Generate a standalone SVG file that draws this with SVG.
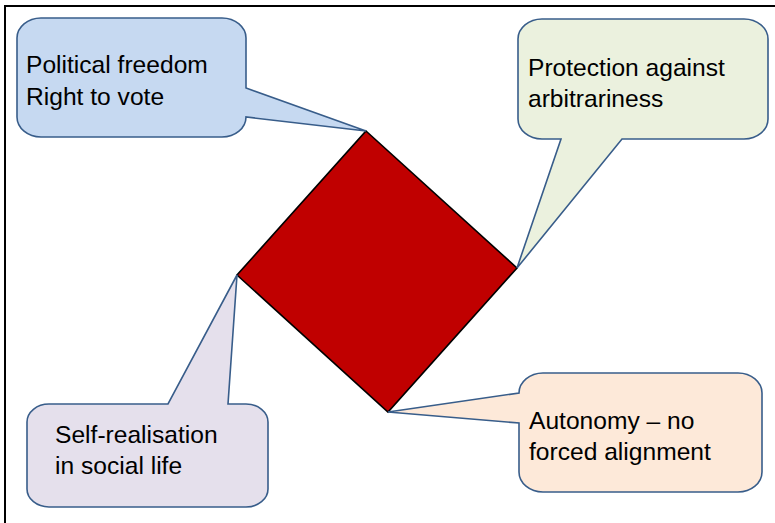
<svg xmlns="http://www.w3.org/2000/svg" width="775" height="523" viewBox="0 0 775 523">
<style>
.co{stroke:#385D8A;stroke-width:1.6;stroke-linejoin:miter}
.t{font-family:"Liberation Sans",Arial,sans-serif;font-size:24.6px;fill:#000}
</style>
<rect x="0" y="0" width="775" height="523" fill="#fff"/>
<rect x="5" y="6" width="800" height="600" fill="none" stroke="#000" stroke-width="2"/>
<g id="diamond">
<polygon points="366,131 517,268 388,412 237,275" fill="#C00000" stroke="#000" stroke-width="1.6"/>
</g>
<g id="callout-political">
<path class="co" fill="#C6D9F1" d="M41,18 H222 A24,20 0 0 1 246,38 V88 L366,131 L246,117 A24,20 0 0 1 222,137 H41 A24,20 0 0 1 17,117 V38 A24,20 0 0 1 41,18 Z"/>
<text class="t" x="26" y="73">Political freedom</text>
<text class="t" x="26" y="105">Right to vote</text>
</g>
<g id="callout-protection">
<path class="co" fill="#EBF1DE" d="M542,19 H744 A24,20 0 0 1 768,39 V119 A24,20 0 0 1 744,139 H622 L517,268 L561,139 H542 A24,20 0 0 1 518,119 V39 A24,20 0 0 1 542,19 Z"/>
<text class="t" x="528" y="76">Protection against</text>
<text class="t" x="528" y="107">arbitrariness</text>
</g>
<g id="callout-self">
<path class="co" fill="#E5E0EC" d="M49,404 H168 L237,275 L228,404 H246 A22,18 0 0 1 268,422 V489 A22,18 0 0 1 246,507 H49 A22,18 0 0 1 27,489 V422 A22,18 0 0 1 49,404 Z"/>
<text class="t" x="55" y="443">Self-realisation</text>
<text class="t" x="55" y="474">in social life</text>
</g>
<g id="callout-autonomy">
<path class="co" fill="#FDE9D9" d="M543,373 H738 A24,20 0 0 1 762,393 V472 A24,20 0 0 1 738,492 H543 A24,20 0 0 1 519,472 V423 L388,412 L519,393 A24,20 0 0 1 543,373 Z"/>
<text class="t" x="529" y="429">Autonomy – no</text>
<text class="t" x="529" y="460">forced alignment</text>
</g>
<g id="connectors"></g>
</svg>
